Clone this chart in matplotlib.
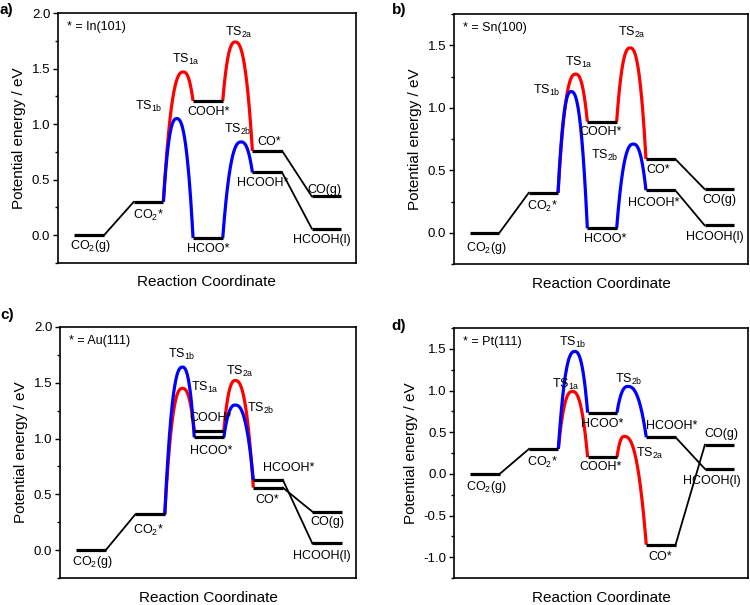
import numpy as np
import matplotlib.pyplot as plt
from matplotlib.ticker import MultipleLocator

plt.rcParams['font.family'] = ['Liberation Sans', 'DejaVu Sans']
plt.rcParams['mathtext.default'] = 'regular'

# energies in eV, one entry per surface
surfaces = ['In(101)', 'Sn(100)', 'Au(111)', 'Pt(111)']
co2_g = [0.0, 0.0, 0.0, 0.0]
co2_ads = [0.30, 0.32, 0.32, 0.30]
# path a (red): COOH* route to CO
ts1a = [1.47, 1.27, 1.45, 0.99]
cooh = [1.21, 0.89, 1.07, 0.20]
ts2a = [1.74, 1.48, 1.52, 0.45]
co_ads = [0.76, 0.59, 0.56, -0.85]
co_g = [0.35, 0.35, 0.345, 0.35]
# path b (blue): HCOO* route to HCOOH
ts1b = [1.05, 1.13, 1.64, 1.47]
hcoo = [-0.025, 0.035, 1.01, 0.735]
ts2b = [0.84, 0.71, 1.30, 1.05]
hcooh_ads = [0.565, 0.34, 0.63, 0.44]
hcooh_l = [0.06, 0.06, 0.06, 0.06]
# reaction coordinate of each transition state
ts1a_x = [3.67, 3.60, 3.60, 3.48]
ts1b_x = [3.45, 3.45, 3.60, 3.56]
ts2a_x = [5.42, 5.46, 5.39, 5.25]
ts2b_x = [5.62, 5.57, 5.39, 5.37]

panel_letters = ['a)', 'b)', 'c)', 'd)']
ylims = [(-0.25, 2.0), (-0.25, 1.75), (-0.25, 2.0), (-1.25, 1.75)]

# label placement (data coords, centred)
label_pos = [
    {'CO2g': (0.53, -0.10), 'CO2a': (2.51, 0.18), 'TS1b': (2.51, 1.16), 'TS1a': (3.75, 1.58),
     'COOH': (4.51, 1.11), 'HCOO': (4.52, -0.12), 'TS2a': (5.56, 1.83), 'TS2b': (5.5, 0.95),
     'CO': (6.58, 0.84), 'HCOOH': (6.35, 0.47), 'COg': (8.44, 0.41), 'HCOOHl': (8.33, -0.04)},
    {'CO2g': (0.54, -0.12), 'CO2a': (2.46, 0.21), 'TS1b': (2.63, 1.14), 'TS1a': (3.7, 1.36),
     'COOH': (4.44, 0.81), 'HCOO': (4.61, -0.05), 'TS2a': (5.51, 1.60), 'TS2b': (4.6, 0.62),
     'CO': (6.42, 0.50), 'HCOOH': (6.25, 0.24), 'COg': (8.5, 0.26), 'HCOOHl': (8.34, -0.03)},
    {'CO2g': (0.53, -0.11), 'CO2a': (2.45, 0.18), 'TS1b': (3.58, 1.75), 'TS1a': (4.37, 1.46),
     'COOH': (4.54, 1.185), 'HCOO': (4.56, 0.89), 'TS2a': (5.56, 1.60), 'TS2b': (6.24, 1.27),
     'CO': (6.46, 0.45), 'HCOOH': (7.2, 0.74), 'COg': (8.5, 0.25), 'HCOOHl': (8.33, -0.05)},
    {'CO2g': (0.54, -0.16), 'CO2a': (2.46, 0.14), 'TS1b': (3.48, 1.58), 'TS1a': (3.25, 1.08),
     'COOH': (4.44, 0.08), 'HCOO': (4.5, 0.60), 'TS2a': (6.14, 0.25), 'TS2b': (5.4, 1.14),
     'CO': (6.47, -1.0), 'HCOOH': (6.87, 0.57), 'COg': (8.57, 0.48), 'HCOOHl': (8.23, -0.08)},
]
label_text = {'CO2g': '$CO_2$(g)', 'CO2a': '$CO_2$*', 'TS1a': '$TS_{1a}$', 'TS1b': '$TS_{1b}$',
              'TS2a': '$TS_{2a}$', 'TS2b': '$TS_{2b}$', 'COOH': 'COOH*', 'HCOO': 'HCOO*',
              'CO': 'CO*', 'HCOOH': 'HCOOH*', 'COg': 'CO(g)', 'HCOOHl': 'HCOOH(l)'}

axes_rect = [[0.0773, 0.5653, 0.397, 0.413], [0.6053, 0.5636, 0.392, 0.413],
             [0.0800, 0.0446, 0.3947, 0.415], [0.6057, 0.0446, 0.392, 0.413]]
letter_pos = [(0.0, 0.983), (0.522, 0.983), (0.0, 0.479), (0.522, 0.461)]


def barrier(x0, y0, xp, yp, x1, y1, n=80, p=2.5):
    # rounded top, steep flanks
    xa = np.linspace(x0, xp, n)
    ya = yp - (yp - y0) * np.abs((xa - xp) / (x0 - xp)) ** p
    xb = np.linspace(xp, x1, n)
    yb = yp - (yp - y1) * np.abs((xb - xp) / (x1 - xp)) ** p
    return np.concatenate([xa, xb]), np.concatenate([ya, yb])


fig = plt.figure(figsize=(7.5, 6.05), dpi=100)

for i in range(4):
    ax = fig.add_axes(axes_rect[i])
    lw_level = 2.3
    lw_ramp = 1.3
    # red path
    xr, yr = barrier(3, co2_ads[i], ts1a_x[i], ts1a[i], 4, cooh[i])
    ax.plot(xr, yr, color='#ff0000', lw=2.3, solid_capstyle='butt')
    xr, yr = barrier(5, cooh[i], ts2a_x[i], ts2a[i], 6, co_ads[i])
    ax.plot(xr, yr, color='#ff0000', lw=2.3, solid_capstyle='butt')
    # blue path
    xb, yb = barrier(3, co2_ads[i], ts1b_x[i], ts1b[i], 4, hcoo[i])
    ax.plot(xb, yb, color='#0000ff', lw=2.3, solid_capstyle='butt')
    xb, yb = barrier(5, hcoo[i], ts2b_x[i], ts2b[i], 6, hcooh_ads[i])
    ax.plot(xb, yb, color='#0000ff', lw=2.3, solid_capstyle='butt')

    # levels
    for xs, e in [((0, 1), co2_g[i]), ((2, 3), co2_ads[i]), ((4, 5), cooh[i]), ((4, 5), hcoo[i]),
                  ((6, 7), co_ads[i]), ((6, 7), hcooh_ads[i]), ((8, 9), co_g[i]), ((8, 9), hcooh_l[i])]:
        ax.plot(xs, [e, e], color='black', lw=lw_level, solid_capstyle='butt')
    # ramps
    ax.plot([1, 2], [co2_g[i], co2_ads[i]], color='black', lw=lw_ramp)
    ax.plot([7, 8], [co_ads[i], co_g[i]], color='black', lw=lw_ramp)
    ax.plot([7, 8], [hcooh_ads[i], hcooh_l[i]], color='black', lw=lw_ramp)

    for key, (lx, ly) in label_pos[i].items():
        ax.text(lx, ly, label_text[key], ha='center', va='center', fontsize=9)

    ax.text(0.03, 0.945, '* = ' + surfaces[i], transform=ax.transAxes,
            ha='left', va='center', fontsize=9)

    ax.set_xlim(-0.55, 9.48)
    ax.set_ylim(*ylims[i])
    ax.set_xticks([])
    ax.yaxis.set_major_locator(MultipleLocator(0.5))
    ax.yaxis.set_minor_locator(MultipleLocator(0.25))
    ax.yaxis.set_major_formatter(plt.FormatStrFormatter('%.1f'))
    ax.tick_params(axis='y', which='major', length=3.5, width=1, labelsize=9.5, pad=2)
    ax.tick_params(axis='y', which='minor', length=2, width=1)
    for s in ax.spines.values():
        s.set_linewidth(1.2)
    ax.set_xlabel('Reaction Coordinate', fontsize=11, labelpad=9)
    ax.set_ylabel('Potential energy / eV', fontsize=11, labelpad=4)

    fig.text(letter_pos[i][0], letter_pos[i][1], panel_letters[i], fontsize=11,
             fontweight='bold', ha='left', va='center')

fig.savefig('out.png', dpi=100)
